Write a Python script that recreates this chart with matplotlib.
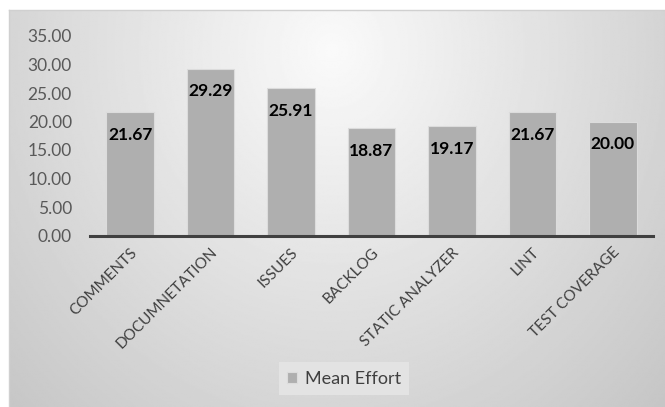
import matplotlib
matplotlib.use("Agg")
import matplotlib.pyplot as plt
import numpy as np

categories = ["COMMENTS", "DOCUMNETATION", "ISSUES", "BACKLOG",
              "STATIC ANALYZER", "LINT", "TEST COVERAGE"]
mean_effort = [21.67, 29.29, 25.91, 18.87, 19.17, 21.67, 20.00]
y_ticks = [0, 5, 10, 15, 20, 25, 30, 35]

plt.rcParams['font.family'] = ['Lato', 'DejaVu Sans']

W, H = 665, 407
fig = plt.figure(figsize=(W / 100, H / 100), dpi=100)
fig.patch.set_facecolor('white')

# gray radial gradient behind the chart, lightest near the top centre
bg = fig.add_axes([9 / W, 0, (W - 9) / W, (H - 10) / H], zorder=-1)
gx, gy = np.meshgrid(np.linspace(9, W, 400), np.linspace(10, H, 300))
r = np.sqrt(((gx - 332) / 360) ** 2 + ((gy - 50) / 400) ** 2)
shade = np.clip(0.98 - 0.16 * r, 0, 1)
bg.imshow(shade, cmap='gray', vmin=0, vmax=1, aspect='auto',
          extent=[0, 1, 0, 1], origin='upper', interpolation='bilinear')
bg.set_xlim(0, 1)
bg.set_ylim(0, 1)
bg.set_xticks([])
bg.set_yticks([])
for side in ['right', 'bottom']:
    bg.spines[side].set_visible(False)
for side in ['top', 'left']:
    bg.spines[side].set_color('#d0d0d0')
    bg.spines[side].set_linewidth(1.0)

ax = fig.add_axes([90 / W, (H - 235.5) / H, 563 / W, 199.5 / H])
ax.patch.set_alpha(0)

x = np.arange(len(categories))
bars = ax.bar(x, mean_effort, width=0.59, color='#afafaf',
              edgecolor='#dcdcdc', linewidth=0.8, label='Mean Effort')

for xi, v in zip(x, mean_effort):
    ax.annotate(f"{v:.2f}", (xi, v), xytext=(0, -16.5), textcoords='offset points',
                ha='center', va='center', fontsize=12.5, fontweight='bold',
                color='black')

ax.set_xlim(-0.5, len(categories) - 0.5)
ax.set_ylim(0, 35)
ax.set_yticks(y_ticks)
ax.set_yticklabels([f"{t:.2f}" for t in y_ticks], fontsize=12.5, color='#595959')
ax.set_xticks(x)
ax.set_xticklabels(categories, rotation=45, ha='right', rotation_mode='anchor',
                   fontsize=11, color='#404040')
ax.tick_params(axis='y', length=0, pad=13)
ax.tick_params(axis='x', length=0, pad=7)

for side in ['top', 'right', 'left']:
    ax.spines[side].set_visible(False)
ax.spines['bottom'].set_color('#404040')
ax.spines['bottom'].set_linewidth(2.2)

leg = fig.legend(handles=[bars], labels=['Mean Effort'], loc='center',
                 bbox_to_anchor=(344 / W, 1 - 378.5 / H), fontsize=13,
                 frameon=True, fancybox=False, facecolor='#e3e3e3',
                 edgecolor='none', framealpha=1, handlelength=0.55,
                 handleheight=0.55, handletextpad=0.4, borderpad=0.45,
                 labelcolor='#404040')

fig.savefig('out.png', dpi=100)
